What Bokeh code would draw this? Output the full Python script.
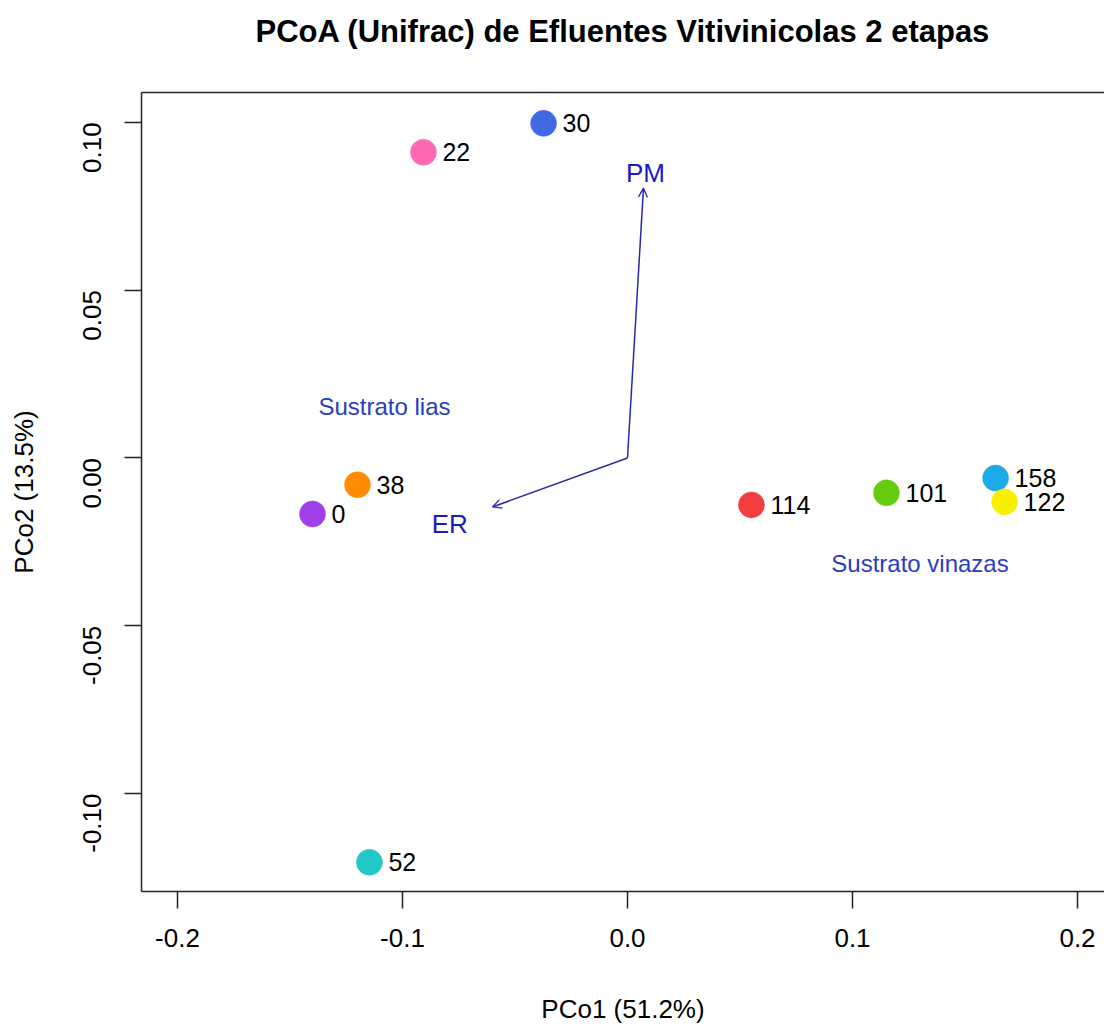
from bokeh.plotting import figure
from bokeh.models import Range1d, Arrow, OpenHead, LinearAxis, FixedTicker
from bokeh.core.properties import value
from bokeh.embed import file_html
from bokeh.resources import INLINE
import math

# Sample scores on the first two principal coordinates
samples = ["30", "22", "38", "0", "52", "114", "101", "158", "122"]
pco1 = [-0.0373, -0.0907, -0.1200, -0.1400, -0.1147, 0.0551, 0.1151, 0.1636, 0.1676]
pco2 = [0.0997, 0.0911, -0.0080, -0.0167, -0.1205, -0.0140, -0.0104, -0.0060, -0.0131]
colors = ["#4169E1", "#FF69B4", "#FF8C00", "#A040E8", "#22C8C8",
          "#F23E3E", "#66CC11", "#1EAAE6", "#F8F000"]

# Environmental vectors (PM, ER)
vec_names = ["PM", "ER"]
vec_x = [0.0071, -0.0600]
vec_y = [0.0804, -0.0146]
vec_label_x = [0.0080, -0.0790]
vec_label_y = [0.0850, -0.0196]

# Group annotations
groups = ["Sustrato lias", "Sustrato vinazas"]
group_x = [-0.1080, 0.1300]
group_y = [0.0153, -0.0315]

x_ticks = [-0.2, -0.1, 0.0, 0.1, 0.2]
y_ticks = [-0.10, -0.05, 0.00, 0.05, 0.10]

TITLE = "PCoA (Unifrac) de Efluentes Vitivinicolas 2 etapas"
FONT = "Liberation Sans"

p = figure(width=1104, height=1026, output_backend="svg", toolbar_location=None,
           x_range=Range1d(-0.216, 0.212), y_range=Range1d(-0.1292, 0.1089),
           x_axis_location=None, y_axis_location=None,
           min_border_left=141, min_border_right=0, min_border_top=92, min_border_bottom=134)
p.grid.visible = False
p.outline_line_color = None
p.background_fill_color = "white"


def style_axis(ax):
    ax.axis_line_color = "#222222"
    ax.axis_line_width = 1.5
    ax.major_tick_line_color = "#222222"
    ax.major_tick_line_width = 1.5
    ax.major_tick_out = 17
    ax.major_tick_in = 0
    ax.minor_tick_line_color = None
    ax.major_label_text_font = FONT
    ax.major_label_text_font_size = "26px"
    ax.major_label_text_color = "black"
    ax.axis_label_text_font = FONT
    ax.axis_label_text_font_size = "26px"
    ax.axis_label_text_font_style = "normal"
    ax.axis_label_text_color = "black"


xaxis = LinearAxis(ticker=FixedTicker(ticks=x_ticks), axis_label="PCo1 (51.2%)")
style_axis(xaxis)
xaxis.major_label_standoff = 20
xaxis.axis_label_standoff = 44
xaxis.major_label_overrides = {-0.2: "-0.2", -0.1: "-0.1", 0.0: "0.0", 0.1: "0.1", 0.2: "0.2"}
p.add_layout(xaxis, "below")

yaxis = LinearAxis(ticker=FixedTicker(ticks=y_ticks), axis_label="PCo2 (13.5%)")
style_axis(yaxis)
yaxis.major_label_orientation = math.pi / 2
yaxis.major_label_standoff = 32
yaxis.axis_label_standoff = 33
yaxis.major_label_overrides = {-0.1: "-0.10", -0.05: "-0.05", 0.0: "0.00", 0.05: "0.05", 0.1: "0.10"}
p.add_layout(yaxis, "left")

# top edge of the box, carrying the chart title
top = LinearAxis(ticker=FixedTicker(ticks=[]), axis_label=TITLE)
top.axis_line_color = "#222222"
top.axis_line_width = 1.5
top.major_label_text_font_size = "0px"
top.major_label_standoff = 0
top.major_tick_out = 0
top.major_tick_line_color = None
top.minor_tick_line_color = None
top.axis_label_text_font = FONT
top.axis_label_text_font_size = "31px"
top.axis_label_text_font_style = "bold"
top.axis_label_text_color = "black"
top.axis_label_standoff = 44
p.add_layout(top, "above")

# vectors from the origin
for vx, vy in zip(vec_x, vec_y):
    p.add_layout(Arrow(end=OpenHead(size=9, line_color="#2a2aa8", line_width=1.3),
                       x_start=0, y_start=0, x_end=vx, y_end=vy,
                       line_color="#2a2aa8", line_width=1.5))

p.text(x=vec_label_x, y=vec_label_y, text=vec_names, text_font=value(FONT),
       text_font_size="26px", text_color="#1a1ac0", text_align="center",
       text_baseline="middle")

p.text(x=group_x, y=group_y, text=groups, text_font=value(FONT),
       text_font_size="24px", text_color="#2a3cc0", text_align="center",
       text_baseline="middle")

p.scatter(x=pco1, y=pco2, size=26, fill_color=colors, line_color=colors, line_width=0.5)
p.text(x=pco1, y=pco2, text=samples, x_offset=19, text_font=value(FONT),
       text_font_size="25px", text_color="black", text_align="left",
       text_baseline="middle")

open("out.html", "w").write(file_html(p, INLINE))
